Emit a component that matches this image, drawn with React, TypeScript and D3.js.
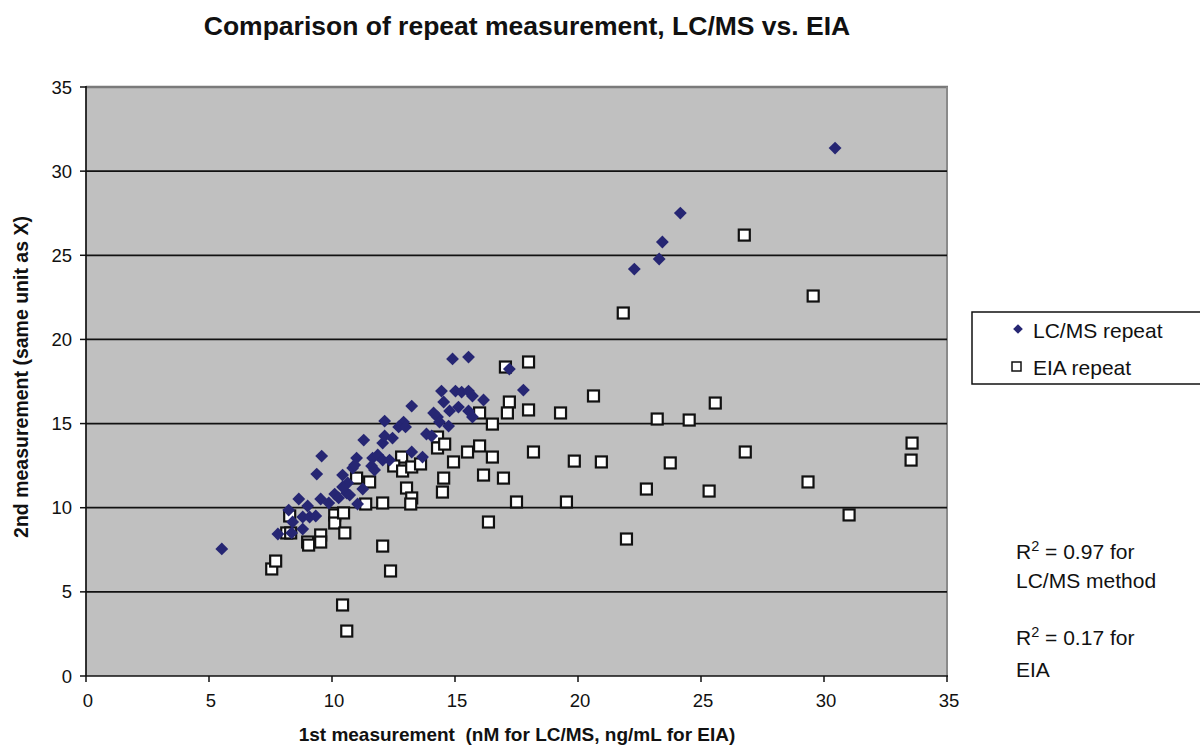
import * as d3 from 'd3';

const lcmsPoints: [number, number][] = [
  [5.52, 7.55], [7.8, 8.44], [8.36, 8.5], [8.81, 8.73], [8.4, 9.15], [8.24, 9.86],
  [8.81, 9.45], [9.09, 9.45], [9.34, 9.51], [8.65, 10.52], [9.01, 10.1], [9.54, 10.52],
  [9.87, 10.28], [10.11, 10.81], [10.27, 10.58], [10.6, 10.87], [10.72, 10.75], [11.04, 10.22],
  [11.25, 11.11], [9.38, 12.0], [9.58, 13.07], [10.43, 11.94], [10.64, 11.47], [11.0, 12.95],
  [10.84, 12.36], [11.29, 14.02], [11.65, 12.95], [11.86, 13.13], [11.61, 12.48], [10.92, 12.54],
  [12.06, 12.83], [12.34, 12.83], [11.73, 12.24], [10.43, 11.23], [12.06, 13.84], [12.14, 14.26],
  [12.46, 14.14], [12.14, 15.15], [12.91, 15.09], [12.71, 14.8], [12.99, 14.8], [13.24, 13.31],
  [13.68, 13.01], [13.84, 14.38], [14.05, 14.26], [13.24, 16.04], [14.13, 15.63], [14.29, 15.39],
  [14.37, 15.09], [14.74, 14.85], [14.45, 16.93], [15.02, 16.93], [15.27, 16.87], [15.55, 16.93],
  [15.71, 16.64], [14.54, 16.28], [15.14, 15.98], [14.78, 15.75], [15.55, 15.75], [15.71, 15.39],
  [16.16, 16.4], [14.9, 18.84], [15.55, 18.95], [17.21, 18.24], [17.78, 16.99], [22.29, 24.18],
  [23.3, 24.78], [23.43, 25.79], [24.16, 27.51], [30.45, 31.37],
];

const eiaPoints: [number, number][] = [
  [7.55, 6.36], [7.71, 6.83], [8.16, 8.5], [8.32, 8.5], [8.28, 9.51], [9.01, 7.96],
  [9.05, 7.78], [9.54, 8.38], [9.54, 7.96], [10.11, 9.57], [10.11, 9.09], [10.47, 9.69],
  [10.52, 8.5], [12.06, 7.72], [12.38, 6.24], [10.43, 4.22], [10.6, 2.67], [11.37, 10.22],
  [12.06, 10.28], [13.03, 11.17], [13.24, 10.58], [13.2, 10.22], [11.0, 11.76], [11.53, 11.53],
  [12.83, 13.01], [12.51, 12.48], [12.87, 12.18], [13.24, 12.42], [13.6, 12.6], [14.29, 14.2],
  [14.29, 13.55], [14.58, 13.78], [14.94, 12.72], [15.51, 13.31], [14.54, 11.76], [14.49, 10.93],
  [16.0, 15.63], [16.0, 13.67], [17.05, 18.36], [17.99, 18.66], [17.21, 16.28], [17.13, 15.63],
  [17.99, 15.81], [16.52, 14.97], [16.52, 13.01], [18.19, 13.31], [16.16, 11.94], [16.97, 11.76],
  [17.5, 10.34], [19.29, 15.63], [19.85, 12.77], [19.53, 10.34], [16.36, 9.15], [26.76, 26.2],
  [21.84, 21.57], [29.56, 22.58], [20.63, 16.64], [23.22, 15.27], [24.52, 15.21], [25.58, 16.22],
  [20.95, 12.72], [23.75, 12.66], [26.8, 13.31], [33.58, 13.84], [33.54, 12.83], [22.78, 11.11],
  [25.33, 10.99], [29.35, 11.53], [31.02, 9.57], [21.97, 8.14],
];

const xTicks = [0, 5, 10, 15, 20, 25, 30, 35];
const yTicks = [0, 5, 10, 15, 20, 25, 30, 35];
const seriesNames = ['LC/MS repeat', 'EIA repeat'];
const r2Notes = [
  { r2: '0.97', line1: ' = 0.97 for', line2: 'LC/MS method' },
  { r2: '0.17', line1: ' = 0.17 for', line2: 'EIA' },
];

const font = '"Liberation Sans", Arial, sans-serif';
const navy = '#262673';

export default function App() {
  const width = 1200;
  const height = 747;
  const plot = { left: 86, right: 947, top: 87, bottom: 676 };

  const x = d3.scaleLinear().domain([0, 35]).range([plot.left, plot.right]);
  const y = d3.scaleLinear().domain([0, 35]).range([plot.bottom, plot.top]);

  const diamond = d3.symbol().type(d3.symbolDiamond2).size(105)();
  const smallDiamond = d3.symbol().type(d3.symbolDiamond2).size(60)();

  return (
    <svg
      width={width}
      height={height}
      style={{ position: 'absolute', left: 0, top: 0, background: '#fff' }}
      fontFamily={font}
    >
      <text x={527} y={35} textAnchor="middle" fontSize={26.5} fontWeight="bold" fill="#111">
        Comparison of repeat measurement, LC/MS vs. EIA
      </text>

      {/* plot area */}
      <rect
        x={plot.left}
        y={plot.top}
        width={plot.right - plot.left}
        height={plot.bottom - plot.top}
        fill="#c0c0c0"
      />
      <line x1={plot.left} x2={plot.right + 1} y1={plot.top} y2={plot.top} stroke="#7a7a7a" strokeWidth={2.5} />
      <line x1={plot.right} x2={plot.right} y1={plot.top} y2={plot.bottom} stroke="#8a8a8a" strokeWidth={2} />

      {yTicks.slice(1, -1).map((t) => (
        <line key={t} x1={plot.left} x2={plot.right} y1={y(t)} y2={y(t)} stroke="#111" strokeWidth={1.7} />
      ))}

      {/* axes */}
      <line x1={plot.left} x2={plot.left} y1={plot.top - 1} y2={plot.bottom} stroke="#111" strokeWidth={1.7} />
      <line x1={plot.left} x2={plot.right + 1} y1={plot.bottom} y2={plot.bottom} stroke="#111" strokeWidth={1.7} />
      {yTicks.map((t) => (
        <g key={t}>
          <line x1={plot.left - 6} x2={plot.left} y1={y(t)} y2={y(t)} stroke="#111" strokeWidth={1.5} />
          <text x={72} y={y(t) + 6.5} textAnchor="end" fontSize={18.5} fill="#111">
            {t}
          </text>
        </g>
      ))}
      {xTicks.map((t) => (
        <g key={t}>
          <line x1={x(t)} x2={x(t)} y1={plot.bottom} y2={plot.bottom + 6} stroke="#111" strokeWidth={1.5} />
          <text x={x(t) + 2} y={707} textAnchor="middle" fontSize={18.5} fill="#111">
            {t}
          </text>
        </g>
      ))}

      <text x={517} y={741} textAnchor="middle" fontSize={19} fontWeight="bold" fill="#111">
        {'1st measurement \u00a0(nM for LC/MS, ng/mL for EIA)'}
      </text>
      <text
        transform="translate(28,377) rotate(-90)"
        textAnchor="middle"
        fontSize={19.5}
        fontWeight="bold"
        fill="#111"
      >
        2nd measurement (same unit as X)
      </text>

      {/* EIA squares */}
      {eiaPoints.map(([a, b], i) => (
        <rect
          key={'e' + i}
          x={x(a) - 5.5}
          y={y(b) - 5.5}
          width={11}
          height={11}
          fill="#fff"
          stroke="#111"
          strokeWidth={2.2}
        />
      ))}

      {/* LC/MS diamonds */}
      {lcmsPoints.map(([a, b], i) => (
        <path key={'l' + i} d={diamond} transform={`translate(${x(a)},${y(b)})`} fill={navy} />
      ))}

      {/* legend */}
      <rect x={972} y={312} width={240} height={72} fill="#fff" stroke="#111" strokeWidth={1.5} />
      <path d={smallDiamond} transform="translate(1018,329)" fill={navy} />
      <text x={1033} y={338} fontSize={21} fill="#111">
        {seriesNames[0]}
      </text>
      <rect x={1012} y={362} width={9} height={9} fill="#fff" stroke="#111" strokeWidth={1.5} />
      <text x={1033} y={375} fontSize={21} fill="#111">
        {seriesNames[1]}
      </text>

      {/* R² notes */}
      {r2Notes.map((n, i) => (
        <g key={n.r2} fontSize={21} fill="#111">
          <text x={1016} y={559 + i * 86}>
            R<tspan dy={-8} fontSize={14.5}>2</tspan>
            <tspan dy={8}>{n.line1}</tspan>
          </text>
          <text x={1016} y={588 + i * 89}>
            {n.line2}
          </text>
        </g>
      ))}
    </svg>
  );
}
